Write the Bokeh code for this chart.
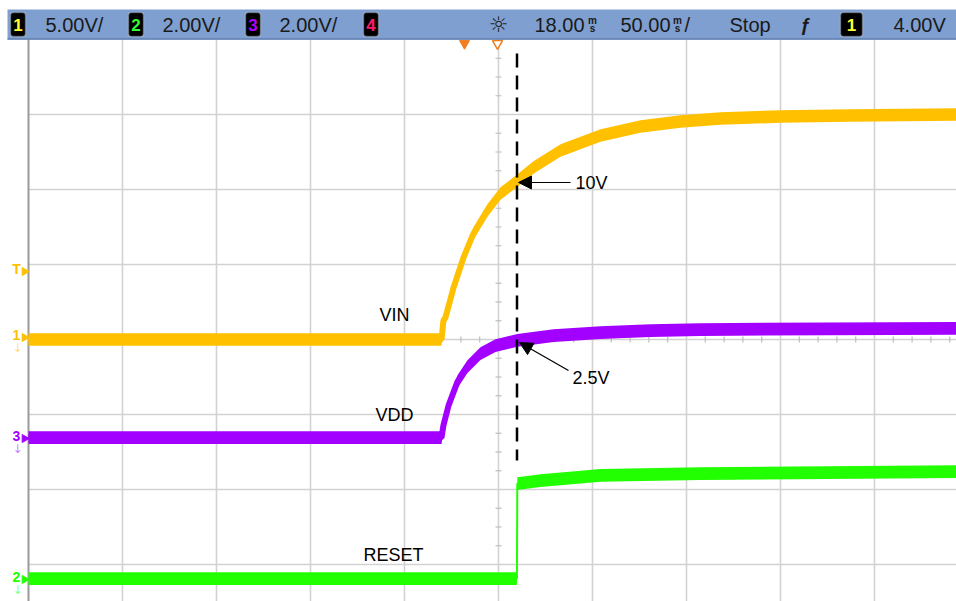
import numpy as np
from bokeh.plotting import figure
from bokeh.models import Range1d, Arrow, NormalHead, BoxAnnotation, Label
from bokeh.core.properties import value
from bokeh.embed import file_html
from bokeh.resources import INLINE

# ---------------- data (time in ms, volts) ----------------
vin_t = [-232, -12.3, -11.3, -10.2, -5.9, -0.6, 4.7, 12.1, 19.1, 28.1, 36.6, 51.0,
         72.3, 93.5, 114.8, 136.1, 168.0, 205.2, 262]
vin_v = [0.0, 0.0, 1.27, 1.47, 3.47, 5.47, 7.07, 8.6, 9.73, 10.6, 11.47, 12.6,
         13.6, 14.2, 14.53, 14.73, 14.87, 14.93, 15.0]

vdd_t = [-232, -12.3, -11.3, -8.6, -3.8, 1.5, 8.4, 16.4, 28.1, 47.3, 72.3, 98.9, 125.4, 262]
vdd_v = [0.0, 0.0, 0.32, 0.85, 1.49, 1.89, 2.24, 2.45, 2.59, 2.72, 2.80, 2.85, 2.88, 2.91]

rst_t = [-232, 27.8, 28.0, 40.3, 72.3, 125.4, 262]
rst_v = [0.0, 0.0, 2.53, 2.61, 2.75, 2.80, 2.85]

ch_numbers = ["1", "2", "3", "4"]
ch_scales = ["5.00V/", "2.00V/", "2.00V/"]
delay_text = "18.00"
timebase_text = "50.00"
run_state = "Stop"
trig_level = "4.00V"
trace_names = ["VIN", "VDD", "RESET"]
marker_texts = ["10V", "2.5V"]

# ---------------- screen geometry helpers ----------------
T_CENTER, PX_CENTER, MS_PER_PX = 18.0, 498.0, 50.0 / 94.0
PY_CENTER, DIV_PER_PX = 339.0, 1.0 / 75.0
W, H = 956, 601


def tx(px):
    return T_CENTER + (px - PX_CENTER) * MS_PER_PX


def dy(py):
    return (PY_CENTER - py) * DIV_PER_PX


off1, off3, off2 = dy(339), dy(437), dy(578)
ybot, ytop = dy(H), dy(0)

p = figure(width=W, height=H, output_backend="svg", toolbar_location=None,
           x_axis_type=None, y_axis_type=None, min_border=0,
           x_range=Range1d(tx(0), tx(W)), y_range=Range1d(ybot, ytop))
p.outline_line_color = None
p.background_fill_color = "white"
p.border_fill_color = "white"
p.extra_y_ranges = {
    "ch1": Range1d((ybot - off1) * 5, (ytop - off1) * 5),
    "ch3": Range1d((ybot - off3) * 2, (ytop - off3) * 2),
    "ch2": Range1d((ybot - off2) * 2, (ytop - off2) * 2),
}

# ---------------- graticule ----------------
gx = [tx(28 + 94 * k) for k in range(1, 10)]
p.segment(x0=gx, x1=gx, y0=[dy(39)] * len(gx), y1=[ybot] * len(gx),
          line_color="#d2d2d2", line_width=1.6)
gy = [dy(114 + 75 * k) for k in range(0, 7)]
p.segment(x0=[tx(28)] * len(gy), x1=[tx(W)] * len(gy), y0=gy, y1=gy,
          line_color="#d2d2d2", line_width=1.6)
p.segment(x0=[tx(28)], x1=[tx(28)], y0=[dy(39)], y1=[ybot], line_color="#9a9a9a", line_width=2)

mx = [tx(28 + 94 / 5 * i) for i in range(1, 50) if i % 5]
p.segment(x0=mx, x1=mx, y0=[-3 * DIV_PER_PX] * len(mx), y1=[3 * DIV_PER_PX] * len(mx),
          line_color="#bdbdbd", line_width=1.2)
my = [dy(39 + 75 / 4 * i) for i in range(1, 30) if i % 4]
p.segment(x0=[tx(495)] * len(my), x1=[tx(501)] * len(my), y0=my, y1=my,
          line_color="#bdbdbd", line_width=1.2)

# ---------------- traces ----------------
c_vin, c_vdd, c_rst = "#ffc000", "#a200ff", "#22ff00"
v = np.array(vin_v)
p.varea(x=vin_t, y1=v - 0.42, y2=v + 0.42, fill_color=c_vin, y_range_name="ch1")
p.line(vin_t, vin_v, line_color=c_vin, line_width=6, y_range_name="ch1")
v = np.array(vdd_v)
p.varea(x=vdd_t, y1=v - 0.17, y2=v + 0.17, fill_color=c_vdd, y_range_name="ch3")
p.line(vdd_t, vdd_v, line_color=c_vdd, line_width=6, y_range_name="ch3")
v = np.array(rst_v)
p.varea(x=rst_t, y1=v - 0.17, y2=v + 0.17, fill_color=c_rst, y_range_name="ch2")
p.line(rst_t, rst_v, line_color=c_rst, line_width=2, y_range_name="ch2")

# ---------------- cursor line & annotations ----------------
p.segment(x0=[tx(516.5)], x1=[tx(516.5)], y0=[dy(53)], y1=[dy(460)],
          line_color="black", line_width=2.5, line_dash="14 8")

p.add_layout(Arrow(end=NormalHead(size=13, fill_color="black", line_color="black"),
                   x_start=tx(570), y_start=dy(182), x_end=tx(518), y_end=dy(182),
                   line_color="black", line_width=1.2))
p.add_layout(Arrow(end=NormalHead(size=13, fill_color="black", line_color="black"),
                   x_start=tx(568), y_start=dy(370), x_end=tx(519), y_end=dy(342),
                   line_color="black", line_width=1.2))

afont = value("Liberation Sans")
p.text(x=[tx(394), tx(394), tx(393)], y=[dy(314), dy(414), dy(554)], text=trace_names,
       text_font=afont, text_font_size="18px", text_align="center",
       text_baseline="middle", text_color="black")
p.text(x=[tx(575), tx(572)], y=[dy(182), dy(377)], text=marker_texts,
       text_font=afont, text_font_size="18px", text_align="left",
       text_baseline="middle", text_color="black")

# trigger / delay markers under the header
p.scatter(x=[tx(464)], y=[dy(43)], marker="inverted_triangle", size=10,
          fill_color="#f07d1e", line_color="#f07d1e")
p.scatter(x=[tx(497)], y=[dy(43)], marker="inverted_triangle", size=10,
          fill_color="white", line_color="#f07d1e", line_width=1.5)

# left ground / trigger markers
mfont = value("Liberation Sans")
lm_y = [268, 334, 435, 576]
lm_txt = ["T", "1", "3", "2"]
lm_col = [c_vin, c_vin, c_vdd, c_rst]
p.text(x=[tx(16)] * 4, y=[dy(yy) for yy in lm_y], text=lm_txt, text_font=mfont,
       text_font_size="14px", text_font_style="bold", text_align="center",
       text_baseline="middle", text_color=lm_col)
p.scatter(x=[tx(24)] * 4, y=[dy(yy + 3) for yy in lm_y], marker="triangle", angle=-np.pi / 2,
          size=8, fill_color=lm_col, line_color=lm_col)
p.text(x=[tx(17)] * 3, y=[dy(yy + 13) for yy in lm_y[1:]], text=["↓"] * 3,
       text_font=value("DejaVu Sans"), text_font_size="12px", text_align="center",
       text_baseline="middle", text_color=lm_col[1:], text_alpha=0.55)

# ---------------- header bar ----------------
p.quad(left=[tx(7)], right=[tx(W)], top=[dy(9)], bottom=[dy(39)],
       fill_color="#7f9fd0", line_color=None)
p.segment(x0=[tx(7)], x1=[tx(W)], y0=[dy(38.5)], y1=[dy(38.5)],
          line_color="#5f7fb0", line_width=1.5)

hfont = value("Liberation Sans")
hy = dy(24)
p.text(x=[tx(45), tx(162), tx(279)], y=[hy] * 3, text=ch_scales, text_font=hfont,
       text_font_size="20px", text_align="left", text_baseline="middle", text_color="#1a1a1a")
p.text(x=[tx(534), tx(620), tx(729), tx(893)], y=[hy] * 4,
       text=[delay_text, timebase_text, run_state, trig_level], text_font=hfont,
       text_font_size="20px", text_align="left", text_baseline="middle", text_color="#1a1a1a")
# stacked time units
p.text(x=[tx(592), tx(677)], y=[dy(19.5)] * 2, text=["m", "m"], text_font=hfont,
       text_font_size="10px", text_font_style="bold", text_align="center",
       text_baseline="middle", text_color="#1a1a1a")
p.text(x=[tx(592), tx(677)], y=[dy(27.5)] * 2, text=["s", "s"], text_font=hfont,
       text_font_size="10px", text_font_style="bold", text_align="center",
       text_baseline="middle", text_color="#1a1a1a")
p.text(x=[tx(684)], y=[hy], text=["/"], text_font=hfont, text_font_size="20px",
       text_align="left", text_baseline="middle", text_color="#1a1a1a")
p.text(x=[tx(498)], y=[hy], text=["☼"], text_font=value("DejaVu Sans"),
       text_font_size="22px", text_align="center", text_baseline="middle", text_color="#222222")
p.text(x=[tx(805)], y=[hy], text=["ƒ"], text_font=hfont, text_font_size="19px",
       text_font_style="bold", text_align="center", text_baseline="middle", text_color="#1a1a1a")

# channel badges
badges = [(10, 25, ch_numbers[0], "#ffff33"), (128, 143, ch_numbers[1], "#33ff33"),
          (245, 260, ch_numbers[2], "#b000ff"), (363, 378, ch_numbers[3], "#ff1a6a"),
          (840, 862, ch_numbers[0], "#ffff33")]
for l, r, n, c in badges:
    p.add_layout(BoxAnnotation(left=tx(l), right=tx(r), top=dy(12), bottom=dy(36),
                               fill_color="black", fill_alpha=1.0, line_color="#e6e6e6",
                               line_width=1.5, border_radius=3))
for l, r, n, c in badges:
    p.add_layout(Label(x=tx((l + r) / 2), y=dy(24.5), text=n, text_color=c,
                       text_font="Liberation Sans", text_font_size="17px",
                       text_font_style="bold", text_align="center", text_baseline="middle"))

open("out.html", "w").write(file_html(p, INLINE))
